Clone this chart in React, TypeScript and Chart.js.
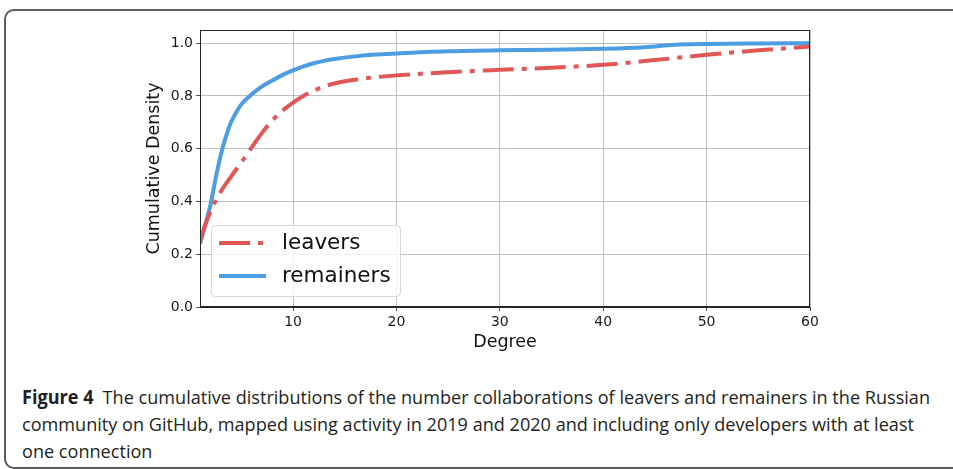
import React, { useEffect, useLayoutEffect, useRef } from "react";
import { Chart, registerables } from "chart.js";

Chart.register(...registerables);

// ---- data ----
const leaversDegree = [1, 1.5, 2, 3, 4, 5, 6, 7, 8, 9, 10, 11, 12, 13, 14.5, 17, 20, 25, 30, 35, 40, 45, 50, 55, 60];
const leaversDensity = [0.25, 0.31, 0.36, 0.437, 0.494, 0.548, 0.605, 0.66, 0.707, 0.745, 0.775, 0.8, 0.82, 0.836, 0.852, 0.867, 0.878, 0.89, 0.899, 0.907, 0.918, 0.936, 0.956, 0.973, 0.987];
const remainersDegree = [1, 1.5, 2, 2.5, 3, 3.5, 4, 4.5, 5, 5.5, 6, 7, 8, 9, 10, 11, 12, 13, 14, 16, 18, 20, 25, 30, 35, 40, 44, 47, 50, 55, 60];
const remainersDensity = [0.24, 0.31, 0.385, 0.485, 0.575, 0.645, 0.7, 0.738, 0.768, 0.789, 0.806, 0.836, 0.859, 0.88, 0.897, 0.912, 0.924, 0.933, 0.94, 0.95, 0.957, 0.961, 0.969, 0.973, 0.975, 0.979, 0.985, 0.994, 0.997, 0.999, 1.0];
const seriesLabels = ["leavers", "remainers"];
const xTickValues = [10, 20, 30, 40, 50, 60];
const yTickValues = [0, 0.2, 0.4, 0.6, 0.8, 1.0];
const xTitle = "Degree";
const yTitle = "Cumulative Density";
const captionLines = [
  "The cumulative distributions of the number collaborations of leavers and remainers in the Russian",
  "community on GitHub, mapped using activity in 2019 and 2020 and including only developers with at least",
  "one connection",
];

const RED = "#e25656";
const BLUE = "#4c9de2";
const DASH = [31, 8, 5, 8];
const FONT = '"DejaVu Sans", sans-serif';

const framePlugin = {
  id: "frameAndLegend",
  afterDatasetsDraw(chart: any) {
    const { ctx, chartArea } = chart;
    ctx.save();
    ctx.strokeStyle = "#262626";
    ctx.lineWidth = 1;
    ctx.strokeRect(
      Math.round(chartArea.left) + 0.5,
      Math.round(chartArea.top) + 0.5,
      Math.round(chartArea.right - chartArea.left) - 1,
      Math.round(chartArea.bottom - chartArea.top) - 1
    );
    // legend inside plot
    const bx = 211.5, by = 225.5, bw = 189, bh = 71, r = 4;
    ctx.beginPath();
    ctx.moveTo(bx + r, by);
    ctx.lineTo(bx + bw - r, by);
    ctx.quadraticCurveTo(bx + bw, by, bx + bw, by + r);
    ctx.lineTo(bx + bw, by + bh - r);
    ctx.quadraticCurveTo(bx + bw, by + bh, bx + bw - r, by + bh);
    ctx.lineTo(bx + r, by + bh);
    ctx.quadraticCurveTo(bx, by + bh, bx, by + bh - r);
    ctx.lineTo(bx, by + r);
    ctx.quadraticCurveTo(bx, by, bx + r, by);
    ctx.closePath();
    ctx.fillStyle = "rgba(255,255,255,0.8)";
    ctx.fill();
    ctx.strokeStyle = "#d6d6d6";
    ctx.lineWidth = 1;
    ctx.stroke();

    const rows = [
      { y: 243, color: RED, dash: DASH, label: seriesLabels[0] },
      { y: 276, color: BLUE, dash: [] as number[], label: seriesLabels[1] },
    ];
    rows.forEach((row) => {
      ctx.beginPath();
      ctx.setLineDash(row.dash);
      ctx.lineCap = "butt";
      ctx.strokeStyle = row.color;
      ctx.lineWidth = 4;
      ctx.moveTo(219, row.y);
      ctx.lineTo(266, row.y);
      ctx.stroke();
      ctx.setLineDash([]);
      ctx.fillStyle = "#111";
      ctx.font = `21.5px ${FONT}`;
      ctx.textBaseline = "middle";
      ctx.textAlign = "left";
      ctx.fillText(row.label, 282, row.y);
    });
    ctx.restore();
  },
};

function ChartCanvas() {
  const ref = useRef<HTMLCanvasElement | null>(null);
  useEffect(() => {
    if (!ref.current) return;
    const chart = new Chart(ref.current, {
      type: "line",
      data: {
        datasets: [
          {
            label: seriesLabels[0],
            data: leaversDegree.map((x, i) => ({ x, y: leaversDensity[i] })),
            borderColor: RED,
            borderWidth: 4,
            borderDash: DASH,
            borderCapStyle: "butt",
            pointRadius: 0,
            fill: false,
            cubicInterpolationMode: "monotone",
          },
          {
            label: seriesLabels[1],
            data: remainersDegree.map((x, i) => ({ x, y: remainersDensity[i] })),
            borderColor: BLUE,
            borderWidth: 4,
            pointRadius: 0,
            fill: false,
            cubicInterpolationMode: "monotone",
          },
        ],
      },
      options: {
        responsive: false,
        animation: false,
        devicePixelRatio: 1,
        layout: { padding: { left: 140, right: 143, top: 30, bottom: 3 } },
        plugins: { legend: { display: false }, tooltip: { enabled: false } },
        scales: {
          x: {
            type: "linear",
            min: 1,
            max: 60,
            afterBuildTicks: (s: any) => {
              s.ticks = xTickValues.map((v) => ({ value: v }));
            },
            afterFit: (s: any) => {
              s.height = 50;
            },
            grid: { color: "#b0b0b0", lineWidth: 0.8, tickColor: "#262626", tickLength: 4, drawTicks: true },
            border: { display: true, color: "#262626", width: 1 },
            ticks: { color: "#1a1a1a", font: { family: FONT, size: 14 }, padding: 3, maxRotation: 0, autoSkip: false, callback: (v: any) => String(v) },
            title: { display: true, text: xTitle, color: "#111", font: { family: FONT, size: 17.5 }, padding: { top: 4, bottom: 4 } },
          },
          y: {
            type: "linear",
            min: 0,
            max: 1.05,
            afterBuildTicks: (s: any) => {
              s.ticks = yTickValues.map((v) => ({ value: v }));
            },
            afterFit: (s: any) => {
              s.width = 60;
            },
            grid: { color: "#b0b0b0", lineWidth: 0.8, tickColor: "#262626", tickLength: 4, drawTicks: true },
            border: { display: true, color: "#262626", width: 1 },
            ticks: { color: "#1a1a1a", font: { family: FONT, size: 14 }, padding: 3, autoSkip: false, callback: (v: any) => Number(v).toFixed(1) },
            title: { display: true, text: yTitle, color: "#111", font: { family: FONT, size: 17.5 }, padding: { top: 4, bottom: 4 } },
          },
        },
      },
      plugins: [framePlugin],
    } as any);
    return () => chart.destroy();
  }, []);
  return (
    <canvas
      ref={ref}
      width={953}
      height={360}
      style={{ position: "absolute", left: 0, top: 0, width: 953, height: 360 }}
    />
  );
}

export default function App() {
  const capRef = useRef<HTMLDivElement | null>(null);
  const line1Ref = useRef<HTMLSpanElement | null>(null);
  useLayoutEffect(() => {
    if (!capRef.current || !line1Ref.current) return;
    const w = line1Ref.current.getBoundingClientRect().width;
    if (w > 0) {
      const s = 908 / w;
      capRef.current.style.transform = `scaleX(${s})`;
    }
  }, []);
  return (
    <div style={{ position: "absolute", left: 0, top: 0, width: 953, height: 469, overflow: "hidden", background: "#fff" }}>
      <div
        style={{
          position: "absolute",
          left: 4,
          top: 9,
          width: 1000,
          height: 460,
          boxSizing: "border-box",
          border: "2px solid #5c5c5c",
          borderRadius: 10,
        }}
      />
      <ChartCanvas />
      <div
        ref={capRef}
        style={{
          position: "absolute",
          left: 22,
          top: 384,
          transformOrigin: "0 0",
          fontFamily: '"Open Sans", sans-serif',
          fontSize: 19,
          lineHeight: "27px",
          color: "#231f20",
          whiteSpace: "nowrap",
        }}
      >
        <div>
          <span ref={line1Ref}>
            <b>Figure 4</b>
            {"\u2002"}
            {captionLines[0]}
          </span>
        </div>
        <div>{captionLines[1]}</div>
        <div>{captionLines[2]}</div>
      </div>
    </div>
  );
}
